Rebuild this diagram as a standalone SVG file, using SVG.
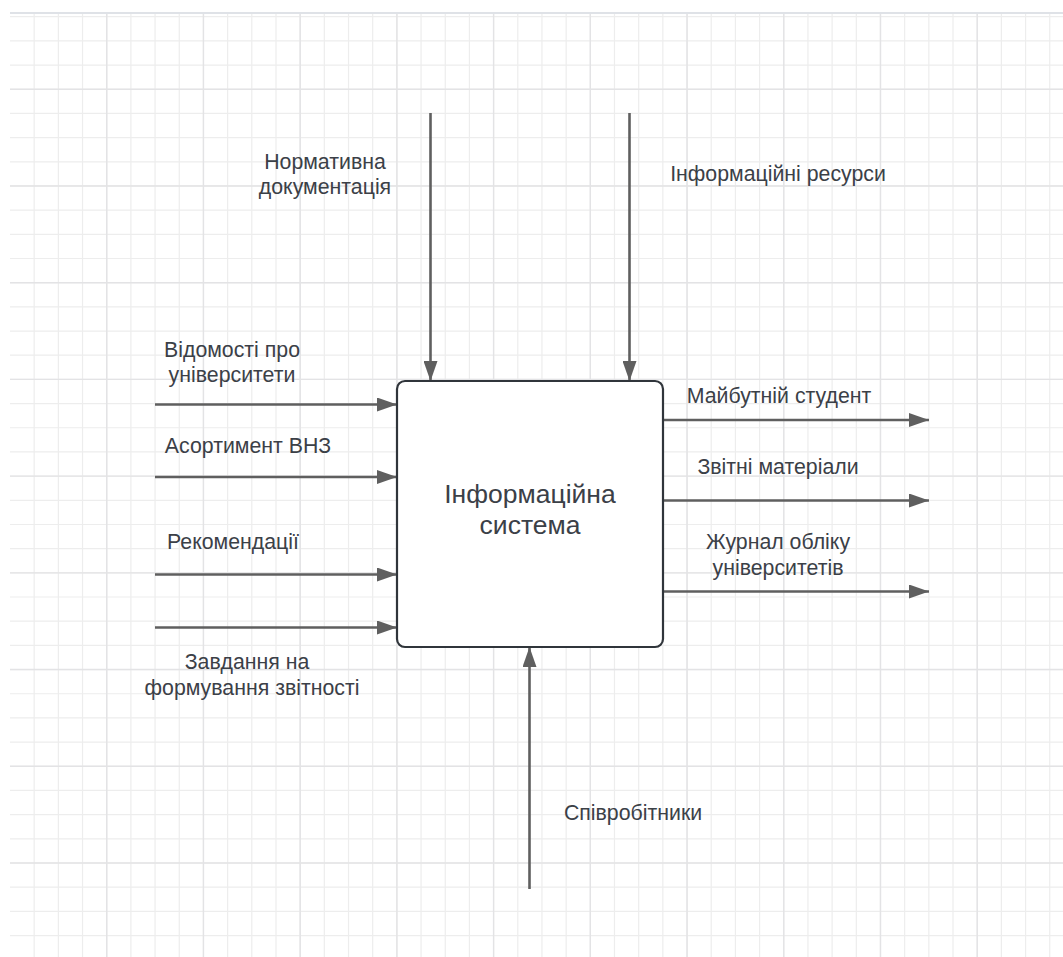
<svg xmlns="http://www.w3.org/2000/svg" width="1063" height="957" viewBox="0 0 1063 957">
  <defs>
    <marker id="arrow" viewBox="0 0 20 14" refX="20" refY="7" markerWidth="20" markerHeight="14" markerUnits="userSpaceOnUse" orient="auto">
      <path d="M 0 0 L 20 7 L 0 14 Z" fill="#5f5f5f"/>
    </marker>
    <style>
      .grid-minor { stroke: #ededed; stroke-width: 1.2; fill: none; }
      .grid-major { stroke: #e3e3e5; stroke-width: 1.4; fill: none; }
      .flow { stroke: #5f5f5f; stroke-width: 2.6; fill: none; marker-end: url(#arrow); }
      .lbl { font-family: "Liberation Sans", Arial, sans-serif; font-size: 21.3px; fill: #3b4047; text-anchor: middle; }
      .title { font-family: "Liberation Sans", Arial, sans-serif; font-size: 26.5px; fill: #3b4047; text-anchor: middle; }
    </style>
  </defs>

  <!-- canvas background -->
  <rect x="0" y="0" width="1063" height="957" fill="#ffffff"/>

  <!-- drawing grid: 24.18 px cells, heavier line every 4 cells -->
  <g id="grid">
    <path class="grid-minor" d="M34.18,13 v944 m24.18,-944 v944 m24.18,-944 v944 m24.18,-944 v944 m24.18,-944 v944 m24.18,-944 v944 m24.18,-944 v944 m24.18,-944 v944 m24.18,-944 v944 m24.18,-944 v944 m24.18,-944 v944 m24.18,-944 v944 m24.18,-944 v944 m24.18,-944 v944 m24.18,-944 v944 m24.18,-944 v944 m24.18,-944 v944 m24.18,-944 v944 m24.18,-944 v944 m24.18,-944 v944 m24.18,-944 v944 m24.18,-944 v944 m24.18,-944 v944 m24.18,-944 v944 m24.18,-944 v944 m24.18,-944 v944 m24.18,-944 v944 m24.18,-944 v944 m24.18,-944 v944 m24.18,-944 v944 m24.18,-944 v944 m24.18,-944 v944 m24.18,-944 v944 m24.18,-944 v944 m24.18,-944 v944 m24.18,-944 v944 m24.18,-944 v944 m24.18,-944 v944 m24.18,-944 v944 m24.18,-944 v944 m24.18,-944 v944 m24.18,-944 v944 m24.18,-944 v944"/>
    <path class="grid-minor" d="M10,16.7 h1053 m-1053,24.18 h1053 m-1053,24.18 h1053 m-1053,24.18 h1053 m-1053,24.18 h1053 m-1053,24.18 h1053 m-1053,24.18 h1053 m-1053,24.18 h1053 m-1053,24.18 h1053 m-1053,24.18 h1053 m-1053,24.18 h1053 m-1053,24.18 h1053 m-1053,24.18 h1053 m-1053,24.18 h1053 m-1053,24.18 h1053 m-1053,24.18 h1053 m-1053,24.18 h1053 m-1053,24.18 h1053 m-1053,24.18 h1053 m-1053,24.18 h1053 m-1053,24.18 h1053 m-1053,24.18 h1053 m-1053,24.18 h1053 m-1053,24.18 h1053 m-1053,24.18 h1053 m-1053,24.18 h1053 m-1053,24.18 h1053 m-1053,24.18 h1053 m-1053,24.18 h1053 m-1053,24.18 h1053 m-1053,24.18 h1053 m-1053,24.18 h1053 m-1053,24.18 h1053 m-1053,24.18 h1053 m-1053,24.18 h1053 m-1053,24.18 h1053 m-1053,24.18 h1053 m-1053,24.18 h1053 m-1053,24.18 h1053"/>
    <path class="grid-major" d="M106.72,13 v944 m96.72,-944 v944 m96.72,-944 v944 m96.72,-944 v944 m96.72,-944 v944 m96.72,-944 v944 m96.72,-944 v944 m96.72,-944 v944 m96.72,-944 v944 m96.72,-944 v944"/>
    <path class="grid-major" d="M10,89.24 h1053 m-1053,96.72 h1053 m-1053,96.72 h1053 m-1053,96.72 h1053 m-1053,96.72 h1053 m-1053,96.72 h1053 m-1053,96.72 h1053 m-1053,96.72 h1053 m-1053,96.72 h1053"/>
    <line x1="10" y1="13" x2="1063" y2="13" stroke="#dfe2e7" stroke-width="2"/>
  </g>

  <!-- connectors -->
  <g id="connectors">
    <line class="flow" x1="430.5" y1="113" x2="430.5" y2="381"/>
    <line class="flow" x1="629.5" y1="113" x2="629.5" y2="381"/>
    <line class="flow" x1="155" y1="404.5" x2="397" y2="404.5"/>
    <line class="flow" x1="155" y1="477" x2="397" y2="477"/>
    <line class="flow" x1="155" y1="574.5" x2="397" y2="574.5"/>
    <line class="flow" x1="155" y1="627.5" x2="397" y2="627.5"/>
    <line class="flow" x1="663" y1="420" x2="929" y2="420"/>
    <line class="flow" x1="663" y1="500.5" x2="929" y2="500.5"/>
    <line class="flow" x1="663" y1="591.5" x2="929" y2="591.5"/>
    <line class="flow" x1="529.5" y1="889" x2="529.5" y2="647"/>
  </g>

  <!-- process block -->
  <g id="node-system">
    <rect x="397" y="381" width="266" height="266" rx="8" ry="8" fill="#ffffff" stroke="#30353b" stroke-width="2.2"/>
    <text class="title" x="530" y="503">Інформаційна</text>
    <text class="title" x="530" y="534">система</text>
  </g>

  <!-- arrow labels -->
  <g id="label-normative">
    <text class="lbl" x="325" y="169">Нормативна</text>
    <text class="lbl" x="325" y="194">документація</text>
  </g>
  <g id="label-resources">
    <text class="lbl" x="778" y="181">Інформаційні ресурси</text>
  </g>
  <g id="label-universities">
    <text class="lbl" x="232" y="357">Відомості про</text>
    <text class="lbl" x="232" y="382">університети</text>
  </g>
  <g id="label-assortment">
    <text class="lbl" x="248" y="453">Асортимент ВНЗ</text>
  </g>
  <g id="label-recommendations">
    <text class="lbl" x="233" y="549">Рекомендації</text>
  </g>
  <g id="label-reporting-task">
    <text class="lbl" x="247" y="669">Завдання на</text>
    <text class="lbl" x="252" y="695">формування звітності</text>
  </g>
  <g id="label-student">
    <text class="lbl" x="779" y="403">Майбутній студент</text>
  </g>
  <g id="label-reports">
    <text class="lbl" x="778" y="474">Звітні матеріали</text>
  </g>
  <g id="label-journal">
    <text class="lbl" x="778" y="549">Журнал обліку</text>
    <text class="lbl" x="778" y="575">університетів</text>
  </g>
  <g id="label-staff">
    <text class="lbl" x="633" y="820">Співробітники</text>
  </g>
</svg>
